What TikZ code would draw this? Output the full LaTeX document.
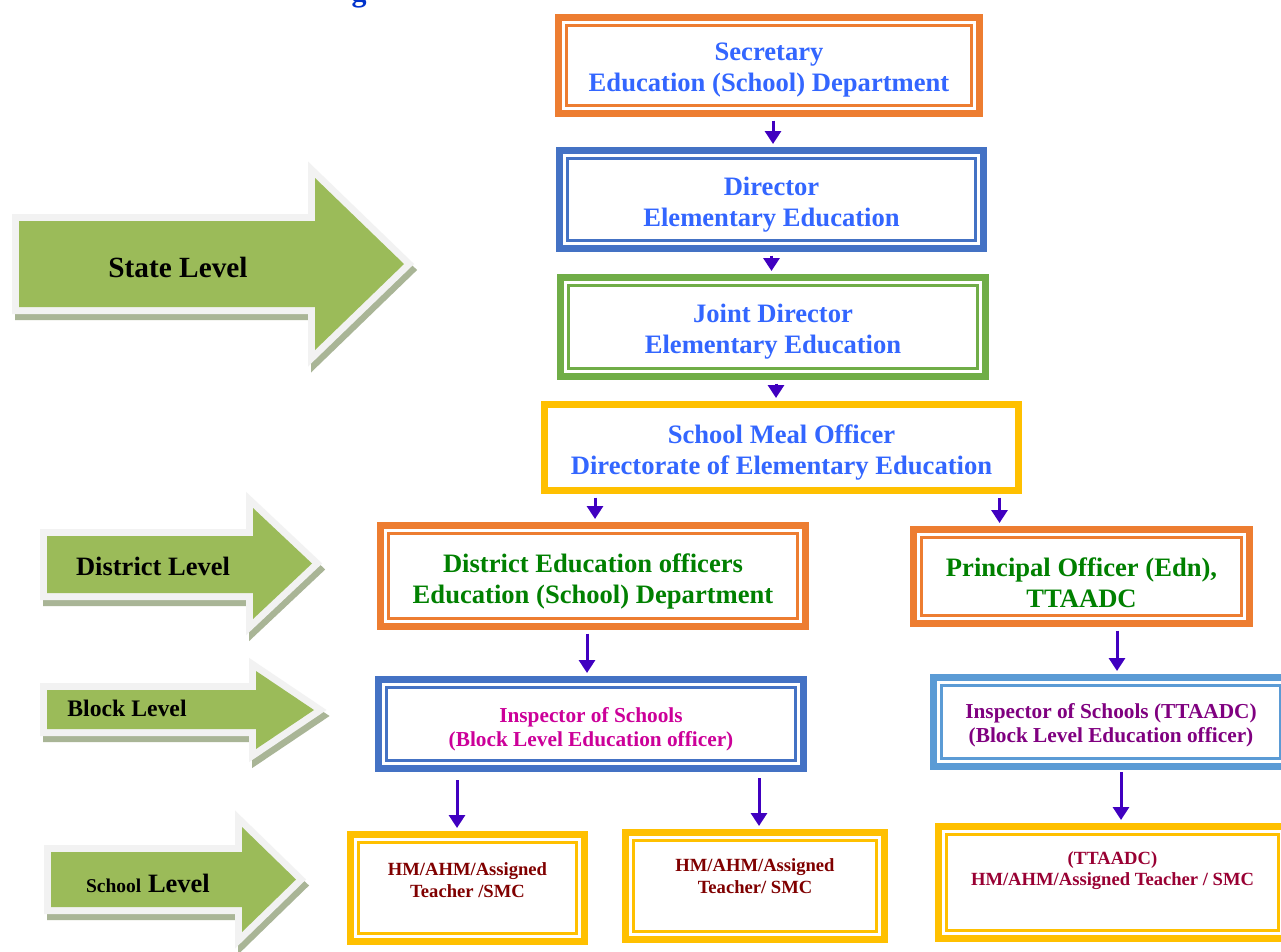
\documentclass[tikz,border=0pt]{standalone}
\usepackage{fontspec}
\setmainfont{Liberation Serif}
\usetikzlibrary{arrows.meta}

\definecolor{boxorange}{HTML}{ED7D31}
\definecolor{boxblue}{HTML}{4472C4}
\definecolor{boxgreen}{HTML}{70AD47}
\definecolor{boxyellow}{HTML}{FFC000}
\definecolor{boxsky}{HTML}{5B9BD5}
\definecolor{titleblue}{HTML}{3366FF}
\definecolor{deepblue}{HTML}{0033CC}
\definecolor{distgreen}{HTML}{008000}
\definecolor{blockpink}{HTML}{CC0099}
\definecolor{blockpurple}{HTML}{800080}
\definecolor{schoolred}{HTML}{800000}
\definecolor{schoolcrimson}{HTML}{990033}
\definecolor{flowink}{HTML}{4000C0}
\definecolor{lvlgreen}{HTML}{9BBB59}
\definecolor{lvlrim}{HTML}{F2F2F2}
\definecolor{lvlshade}{HTML}{A9B596}

\tikzset{
  tier/.style={draw=#1, line width=7pt, fill=white, inner sep=0pt,
    path picture={\draw[#1, line width=2.5pt]
      ([shift={(8pt,-8pt)}]path picture bounding box.north west) rectangle
      ([shift={(-8pt,8pt)}]path picture bounding box.south east);}},
  plaintier/.style={draw=#1, line width=7pt, fill=white, inner sep=0pt},
  bigtxt/.style={font=\bfseries\fontsize{26.6}{31}\selectfont, align=center},
  midtxt/.style={font=\bfseries\fontsize{21.3}{24}\selectfont, align=center},
  smalltxt/.style={font=\bfseries\fontsize{18.6}{21.5}\selectfont, align=center},
  flow/.style={flowink, line width=3pt, -{Triangle[width=16pt,length=13pt]},
    shorten <=3.5pt, shorten >=3pt},
  lvltxt/.style={font=\bfseries\fontsize{#1}{#1}\selectfont, text=black, inner sep=0pt}
}

% level arrow: x left, shaft top, shaft bottom, head x, head top, head bottom, tip x
\newcommand{\levelarrow}[7]{%
  \filldraw[lvlshade, line width=14pt, line join=miter, shift={(3,6)}]
    (#1,#2) -- (#4,#2) -- (#4,#5) -- (#7,{(#5+#6)/2}) -- (#4,#6) -- (#4,#3) -- (#1,#3) -- cycle;
  \filldraw[draw=lvlrim, fill=lvlgreen, line width=14pt, line join=miter]
    (#1,#2) -- (#4,#2) -- (#4,#5) -- (#7,{(#5+#6)/2}) -- (#4,#6) -- (#4,#3) -- (#1,#3) -- cycle;
  \fill[lvlgreen]
    (#1,#2) -- (#4,#2) -- (#4,#5) -- (#7,{(#5+#6)/2}) -- (#4,#6) -- (#4,#3) -- (#1,#3) -- cycle;}

\begin{document}
\begin{tikzpicture}[x=1pt, y=-1pt]
  \useasboundingbox[fill=white] (0,0) rectangle (1281,951);

  % title, cut at the top edge
  \node[font=\bfseries\fontsize{30}{30}\selectfont, text=deepblue, anchor=base, inner sep=0pt] (ttl) at (359,1.5) {g};

  % Level arrows
  \levelarrow{19}{221}{307}{315}{178}{350}{404}
  \levelarrow{47}{536}{593}{253}{508}{619}{312}
  \levelarrow{47}{690}{729}{256}{671}{749}{314}
  \levelarrow{51}{852}{907}{242}{827}{932}{296}
  \node[lvltxt=29.3] (state) at (178,267) {State Level};
  \node[lvltxt=26.5] (district) at (153,566) {District Level};
  \node[lvltxt=23.7] (block) at (127,708) {Block Level};
  \node[lvltxt=26.5, anchor=base] (school) at (148,892) {{\fontsize{19.5}{19.5}\selectfont School} Level};

  % State
  \node[tier=boxorange, minimum width=421pt, minimum height=96pt] (sec) at (769,65.5) {};
  \node[tier=boxblue, minimum width=424pt, minimum height=98pt] (dir) at (771.5,199.5) {};
  \node[tier=boxgreen, minimum width=425pt, minimum height=99pt] (jd) at (773,327) {};
  \node[plaintier=boxyellow, minimum width=474pt, minimum height=86pt] (smo) at (781.5,447.5) {};
  \node[bigtxt, text=titleblue] (sectxt) at ([yshift=-5pt]sec.center) {Secretary\\Education (School) Department};
  \node[bigtxt, text=titleblue] (dirtxt) at ([yshift=-5pt]dir.center) {Director\\Elementary Education};
  \node[bigtxt, text=titleblue] (jdtxt) at ([yshift=-5pt]jd.center) {Joint Director\\Elementary Education};
  \node[bigtxt, text=titleblue] (smotxt) at ([yshift=-5pt]smo.center) {School Meal Officer\\Directorate of Elementary Education};

  % District
  \node[tier=boxorange, minimum width=425pt, minimum height=101pt] (deo) at (593,576) {};
  \node[tier=boxorange, minimum width=336pt, minimum height=94pt] (po) at (1081.5,576.5) {};
  \node[bigtxt, text=distgreen] (deotxt) at ([yshift=-5pt]deo.center) {District Education officers\\Education (School) Department};
  \node[bigtxt, text=distgreen] (potxt) at ([yshift=-6pt]po.center) {Principal Officer (Edn),\\TTAADC};

  % Block
  \node[tier=boxblue, minimum width=425pt, minimum height=89pt] (ins) at (591,724) {};
  \node[tier=boxsky, minimum width=355pt, minimum height=89pt] (inst) at (1111,722) {};
  \node[midtxt, text=blockpink] (instxt) at ([yshift=-5pt]ins.center) {Inspector of Schools\\ (Block Level Education officer)};
  \node[midtxt, text=blockpurple] (insttxt) at ([yshift=-3pt]inst.center) {Inspector of Schools (TTAADC)\\ (Block Level Education officer)};

  % School
  \node[tier=boxyellow, minimum width=234pt, minimum height=107pt] (hma) at (467.5,888) {};
  \node[tier=boxyellow, minimum width=259pt, minimum height=107pt] (hmb) at (755,886) {};
  \node[tier=boxyellow, minimum width=348pt, minimum height=112pt] (hmc) at (1112.5,882.5) {};
  \node[smalltxt, text=schoolred] (hmatxt) at ([yshift=8pt]hma.center) {HM/AHM/Assigned\\Teacher /SMC};
  \node[smalltxt, text=schoolred] (hmbtxt) at ([yshift=10pt]hmb.center) {HM/AHM/Assigned\\Teacher/ SMC};
  \node[smalltxt, text=schoolcrimson] (hmctxt) at ([yshift=12pt]hmc.center) {(TTAADC)\\HM/AHM/Assigned Teacher / SMC};

  % connectors
  \draw[flow] ([xshift=4pt]sec.south) -- ([xshift=4pt]sec.south |- dir.north);
  \draw[flow] (dir.south) -- (dir.south |- jd.north);
  \draw[flow] ([xshift=3pt]jd.south) -- ([xshift=3pt]jd.south |- smo.north);
  \draw[flow] ([xshift=2pt]deo.north |- smo.south) -- ([xshift=2pt]deo.north);
  \draw[flow] ([xshift=89.5pt]po.north west |- smo.south) -- ([xshift=89.5pt]po.north west);
  \draw[flow] ([xshift=-6pt]deo.south) -- ([xshift=-6pt]deo.south |- ins.north);
  \draw[flow] ([xshift=35.5pt]po.south) -- ([xshift=35.5pt]po.south |- inst.north);
  \draw[flow, shorten <=8pt] ([xshift=-10.5pt]hma.north |- ins.south) -- ([xshift=-10.5pt]hma.north);
  \draw[flow, shorten <=6pt] ([xshift=4pt]hmb.north |- ins.south) -- ([xshift=4pt]hmb.north);
  \draw[flow, shorten <=2pt] ([xshift=8.5pt]hmc.north |- inst.south) -- ([xshift=8.5pt]hmc.north);
\end{tikzpicture}
\end{document}
